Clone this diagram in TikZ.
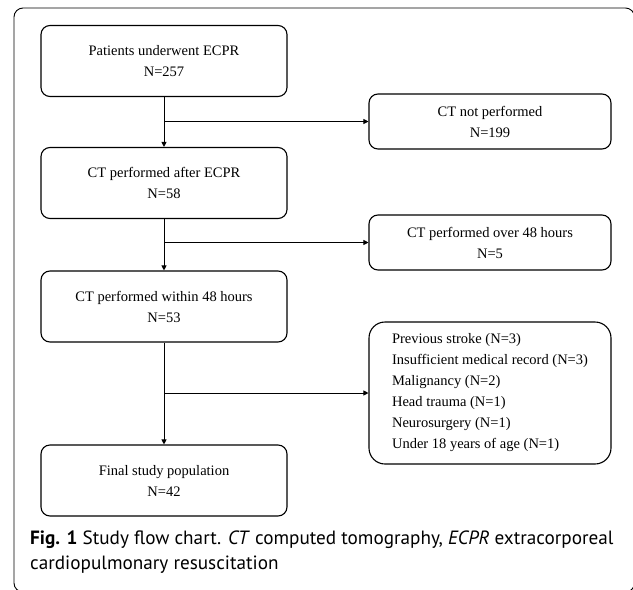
\documentclass[tikz,border=0pt]{standalone}
\usepackage{fontspec}
\setmainfont{Liberation Serif}
\newfontfamily\capfont{PT Sans}
\usetikzlibrary{arrows.meta,positioning}
\tikzset{
  flowbox/.style={draw, line width=1.1pt, rounded corners=9pt, align=center,
    font=\fontsize{14.5}{21}\selectfont, inner sep=0pt},
  mainbox/.style={flowbox, minimum width=246pt, minimum height=71pt},
  sidebox/.style={flowbox, minimum width=242pt, minimum height=55pt},
  flowarrow/.style={-{Triangle[length=5pt,width=5pt]}, line width=0.9pt}
}
\begin{document}
\begin{tikzpicture}[x=1pt,y=-1pt]
  \useasboundingbox (0,0) rectangle (633,590);
  % outer frame
  \draw [line width=0.9pt, rounded corners=9pt] (14,8) rectangle (634.5,592);
  % main column
  \node [mainbox] (ecpr) at (164,61) {Patients underwent ECPR\\N=257};
  \node [mainbox] (ctafter) at (164,183) {CT performed after ECPR\\N=58};
  \node [mainbox] (ctwithin) at (164,306.5) {CT performed within 48 hours\\N=53};
  \node [mainbox] (final) at (164,480.5) {Final study population\\N=42};
  % side boxes
  \node [sidebox] (ctnot) at (490,121.5) {CT not performed\\N=199};
  \node [sidebox] (ctover) at (490,242.5) {CT performed over 48 hours\\N=5};
  \node [sidebox, minimum height=142pt, rounded corners=16pt, align=left] (excl) at (490,393)
    {Previous stroke (N=3)\\Insufficient medical record (N=3)\\Malignancy (N=2)\\
     Head trauma (N=1)\\Neurosurgery (N=1)\\Under 18 years of age (N=1)};
  % arrows
  \draw [flowarrow] (ecpr) -- (ctafter);
  \draw [flowarrow] (ctafter) -- (ctwithin);
  \draw [flowarrow] (ctwithin) -- (final);
  \draw [flowarrow] (ecpr.south |- ctnot.west) -- (ctnot.west);
  \draw [flowarrow] (ctafter.south |- ctover.west) -- (ctover.west);
  \draw [flowarrow] (ctwithin.south |- excl.west) -- (excl.west);
  % caption
  \node [anchor=north west, align=left, inner sep=0pt,
    font=\capfont\fontsize{19.2}{25}\selectfont] (caption) at (30,531)
    {\textbf{Fig. 1} Study flow chart. \textit{CT} computed tomography, \textit{ECPR} extracorporeal\\
     cardiopulmonary resuscitation};
\end{tikzpicture}
\end{document}
